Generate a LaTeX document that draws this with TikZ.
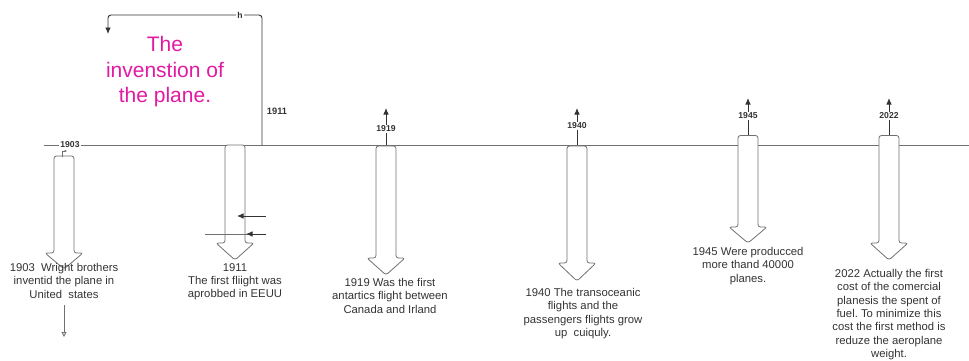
\documentclass[tikz,border=0pt]{standalone}
\usepackage{fontspec}
\setmainfont{Liberation Sans}
\usepackage{xcolor}
\usetikzlibrary{positioning, arrows.meta}
\definecolor{inkgray}{RGB}{51,51,51}
\definecolor{linegray}{RGB}{112,112,112}
\definecolor{titlepink}{RGB}{226,26,162}
\frenchspacing

% block arrow pointing down: x, top, neck, tip
\newcommand{\downblock}[4]{%
  \draw[blk] ({#1-10},#3) -- ({#1-10},#2) -- ({#1+10},#2) -- ({#1+10},#3)
    -- ({#1+19},#3) -- (#1,#4) -- ({#1-19},#3) -- cycle;}

\begin{document}
\begin{tikzpicture}[
  x=1pt, y=-1pt,
  evt/.style={font=\fontsize{11.3}{13.4}\selectfont, text=inkgray,
              align=center, anchor=north, inner sep=0pt},
  yr/.style={font=\bfseries\fontsize{8.6}{10}\selectfont, text=inkgray,
             fill=white, inner sep=1pt},
  ttl/.style={font=\fontsize{21}{25.5}\selectfont, text=titlepink,
              align=center, anchor=north, inner sep=0pt},
  line/.style={linegray, line width=0.9pt},
  arr/.style={line, -{Latex[length=6.5pt,width=5.5pt]}, inkgray},
  blk/.style={draw=linegray, fill=white, line width=0.8pt, rounded corners=2.5pt}
]
\useasboundingbox (0,0) rectangle (969,360);

% timeline
\coordinate (tl0) at (44,145);
\coordinate (tl1) at (969,145);
\draw[line] (tl0) -- (tl1);

% 1911 link back to the title
\coordinate (b1911) at (262,145);
\coordinate (h1911) at (108,34);
\draw[arr, rounded corners=3pt] (b1911) -- ++(0,-130) -| (h1911);
\node[yr] (lh) at (240,15) {h};
\node[yr, fill=none, font=\bfseries\fontsize{9.3}{11}\selectfont] (l1911) at (277,111) {1911};

% up arrows
\coordinate (t1919) at (386,145);  \coordinate (u1919) at (386,108);
\coordinate (t1940) at (577,145);  \coordinate (u1940) at (577,108);
\coordinate (t1945) at (748,136);  \coordinate (u1945) at (748,98);
\coordinate (t2022) at (889,136);  \coordinate (u2022) at (889,98);
\draw[arr] (t1919) -- (u1919);
\draw[arr] (t1940) -- (u1940);
\draw[arr] (t1945) -- (u1945);
\draw[arr] (t2022) -- (u2022);

% block arrows
\downblock{64}{156}{253}{269}
\downblock{235}{145}{243}{260}
\downblock{386}{146}{258}{275}
\downblock{577}{146}{263}{281}
\downblock{748}{135.5}{227}{243}
\downblock{889}{135.5}{243}{260}

% year labels
\node[yr] (l1903) at (70,145) {1903};
\node[yr] (l1919) at (386,129) {1919};
\node[yr] (l1940) at (577,126) {1940};
\node[yr] (l1945) at (748,116) {1945};
\node[yr] (l2022) at (889,116) {2022};

% small marks
\coordinate (m0) at (62,157);
\coordinate (m1) at (67,151);
\draw[line, line width=0.6pt, -{Latex[length=2.5pt,width=2.5pt]}] (m0) |- (m1);
\coordinate (s1903) at (64,305);
\coordinate (e1903) at (64,337);
\draw[line, -{Triangle[open,length=5pt,width=5pt]}] (s1903) -- (e1903);
\coordinate (p1) at (266,216);  \coordinate (q1) at (237,216);
\draw[arr] (p1) -- (q1);
\coordinate (p2) at (205,234);  \coordinate (p3) at (266,234);
\coordinate (q2) at (246,234);
\draw[line] (p2) -- (p3);
\draw[arr] (p3) -- (q2);

% title
\node[ttl] (title) at (165,36.5) {The\\invenstion of\\the plane.};

% events
\node[evt] (e1903) at (64,263) {1903\ \ Wright brothers\\inventid the plane in\\United\ \ states};
\node[evt] (e1911) at (235,263) {1911\\The first fliight was\\aprobbed in EEUU};
\node[evt] (e1919) at (390,278) {1919 Was the first\\antartics flight between\\Canada and Irland};
\node[evt] (e1940) at (583,288) {1940 The transoceanic\\flights and the\\passengers flights grow\\up\ \ cuiquly.};
\node[evt] (e1945) at (748,247) {1945 Were producced\\more thand 40000\\planes.};
\node[evt] (e2022) at (889,269) {2022 Actually the first\\cost of the comercial\\planesis the spent of\\fuel. To minimize this\\cost the first method is\\reduze the aeroplane\\weight.};
\end{tikzpicture}
\end{document}
